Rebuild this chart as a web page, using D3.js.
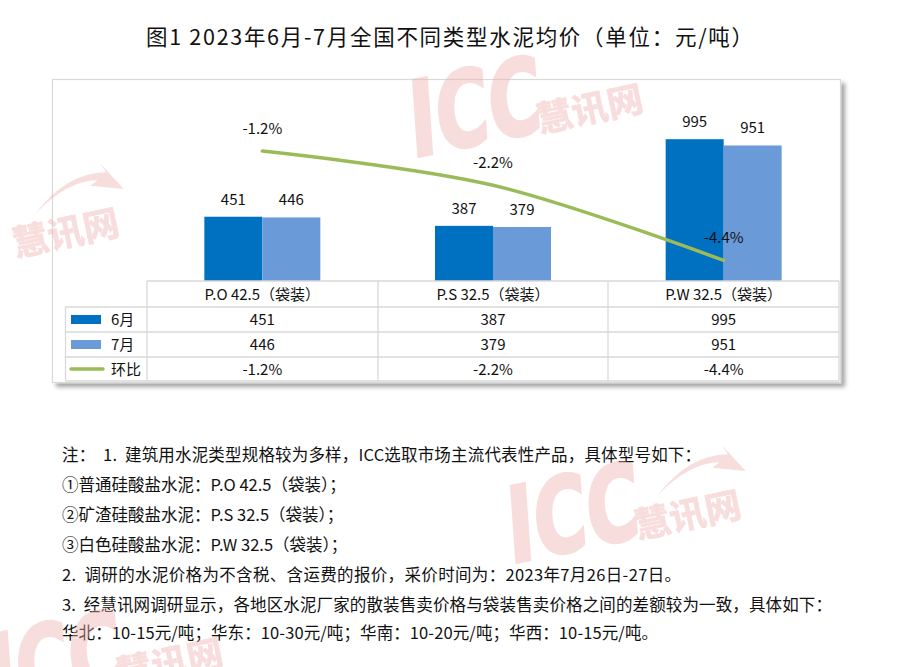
<!DOCTYPE html>
<html><head><meta charset="utf-8">
<script src="https://cdn.jsdelivr.net/npm/d3@7"></script>
<style>
html,body{margin:0;padding:0;background:#fff;}
svg{display:block;font-family:"Noto Sans CJK SC","Noto Sans",sans-serif;}
</style></head>
<body>
<svg id="c" width="900" height="667"></svg>
<script>
const title = "图1 2023年6月-7月全国不同类型水泥均价（单位：元/吨）";
const categories = ["P.O 42.5（袋装）", "P.S 32.5（袋装）", "P.W 32.5（袋装）"];
const seriesNames = ["6月", "7月", "环比"];
const june = [451, 387, 995];
const july = [446, 379, 951];
const momPct = [-1.2, -2.2, -4.4];
const momLabels = ["-1.2%", "-2.2%", "-4.4%"];
const notes = [
  "注：  1.  建筑用水泥类型规格较为多样，ICC选取市场主流代表性产品，具体型号如下：",
  "①普通硅酸盐水泥：P.O 42.5（袋装）；",
  "②矿渣硅酸盐水泥：P.S 32.5（袋装）；",
  "③白色硅酸盐水泥：P.W 32.5（袋装）；",
  "2.  调研的水泥价格为不含税、含运费的报价，采价时间为：2023年7月26日-27日。",
  "3.  经慧讯网调研显示，各地区水泥厂家的散装售卖价格与袋装售卖价格之间的差额较为一致，具体如下：",
  "华北：10-15元/吨；华东：10-30元/吨；华南：10-20元/吨；华西：10-15元/吨。"
];

const colors = {jun:"#0070C0", jul:"#6A9BD8", line:"#9BBB59", grid:"#D9D9D9"};
const svg = d3.select("#c");

const defs = svg.append("defs");
const f = defs.append("filter").attr("id","sh").attr("x","-5%").attr("y","-5%").attr("width","115%").attr("height","115%");
f.append("feDropShadow").attr("dx",4).attr("dy",4).attr("stdDeviation",2.2).attr("flood-color","#000").attr("flood-opacity",0.35);

// title
svg.append("text").attr("x",146).attr("y",45)
  .attr("font-size",21.5).attr("fill","#111")
  .attr("textLength",607).attr("lengthAdjust","spacing").text(title);

// chart box
svg.append("rect").attr("x",52.5).attr("y",79.5).attr("width",788).attr("height",303)
  .attr("fill","#fff").attr("stroke",colors.grid).attr("stroke-width",1.2).attr("filter","url(#sh)");

const x = d3.scaleBand().domain(categories).range([147,839]).paddingInner(0).paddingOuter(0);
const y = d3.scaleLinear().domain([0,1200]).range([281,110]);
const y2 = d3.scaleLinear().domain([-5,0]).range([281,110]);
const barW = 58;
const cx = c => x(c) + x.bandwidth()/2;

const g = svg.append("g");
const barData = [];
categories.forEach((c,i)=>{
  barData.push({c, v:june[i], s:0});
  barData.push({c, v:july[i], s:1});
});
g.selectAll("rect.bar").data(barData).join("rect")
  .attr("x", d => cx(d.c) - barW + d.s*barW)
  .attr("y", d => y(d.v))
  .attr("width", barW)
  .attr("height", d => y(0) - y(d.v))
  .attr("fill", d => d.s===0 ? colors.jun : colors.jul);
g.selectAll("text.bl").data(barData).join("text")
  .attr("x", d => cx(d.c) - barW/2 + d.s*barW)
  .attr("y", d => y(d.v) - 12)
  .attr("text-anchor","middle").attr("font-size",15).attr("fill","#111")
  .text(d => d.v);

const pts = categories.map((c,i)=>[cx(c), y2(momPct[i])]);
g.append("path").attr("d", d3.line().curve(d3.curveCatmullRom.alpha(0.5))(pts))
  .attr("fill","none").attr("stroke",colors.line).attr("stroke-width",3.5).attr("stroke-linecap","round");
g.selectAll("text.ll").data(categories).join("text")
  .attr("x", c => cx(c)).attr("y",(c,i)=> y2(momPct[i]) - 17)
  .attr("text-anchor","middle").attr("font-size",15).attr("fill","#111")
  .text((c,i)=>momLabels[i]);

// table
const rowsY = [281, 307, 332, 357, 381];
const colX = [65.5, 147, 378, 608, 839];
const t = svg.append("g").attr("stroke",colors.grid).attr("stroke-width",1.3).attr("fill","none");
t.append("line").attr("x1",147).attr("x2",839).attr("y1",rowsY[0]).attr("y2",rowsY[0]);
rowsY.slice(1).forEach(yy => t.append("line").attr("x1",65.5).attr("x2",839).attr("y1",yy).attr("y2",yy));
t.append("line").attr("x1",65.5).attr("x2",65.5).attr("y1",rowsY[1]).attr("y2",rowsY[4]);
colX.slice(1).forEach(xx => t.append("line").attr("x1",xx).attr("x2",xx).attr("y1",rowsY[0]).attr("y2",rowsY[4]));

const tt = svg.append("g").attr("font-size",15).attr("fill","#111").attr("text-anchor","middle");
categories.forEach(c => tt.append("text").attr("x",cx(c)).attr("y",(rowsY[0]+rowsY[1])/2+5.5).text(c));
const rowVals = [june.map(String), july.map(String), momLabels];
rowVals.forEach((vals,r)=>{
  vals.forEach((v,i)=> tt.append("text").attr("x",cx(categories[i])).attr("y",(rowsY[r+1]+rowsY[r+2])/2+5.5).text(v));
});
const lk = svg.append("g");
[0,1].forEach(r=>{
  const yc = (rowsY[r+1]+rowsY[r+2])/2;
  lk.append("rect").attr("x",71).attr("y",yc-4.5).attr("width",30).attr("height",9)
    .attr("fill", r===0?colors.jun:colors.jul);
});
{
  const yc = (rowsY[3]+rowsY[4])/2;
  lk.append("line").attr("x1",71).attr("x2",103).attr("y1",yc).attr("y2",yc)
    .attr("stroke",colors.line).attr("stroke-width",3.5).attr("stroke-linecap","round");
}
seriesNames.forEach((s,r)=>{
  const yc = (rowsY[r+1]+rowsY[r+2])/2;
  lk.append("text").attr("x",111).attr("y",yc+5.5).attr("font-size",15).attr("fill","#111").text(s);
});

// notes
const ny = [461, 491, 521, 551, 581, 611, 639];
const noteLen = [639, null, null, null, 619, 770, 596];
svg.append("g").attr("font-size",16.5).attr("fill","#111")
  .selectAll("text").data(notes).join("text")
  .attr("x",62).attr("y",(d,i)=>ny[i]).style("white-space","pre")
  .each(function(d,i){ if(noteLen[i]) d3.select(this).attr("textLength",noteLen[i]).attr("lengthAdjust","spacing"); })
  .text(d=>d);

// watermarks
function watermark(ox, oy, showICC, showSwoosh){
  const w = svg.append("g").attr("transform",`translate(${ox},${oy}) rotate(-12)`)
    .attr("fill","#F0AFAF").attr("stroke","#F0AFAF").attr("opacity",0.42).style("pointer-events","none");
  if(showICC){
    w.append("text").attr("x",0).attr("y",0)
      .attr("font-family","'DejaVu Sans Condensed','DejaVu Sans',sans-serif")
      .attr("font-weight","bold").attr("font-size",104).attr("stroke-width",3)
      .attr("transform","skewX(-8) scale(0.78,1)").text("ICC");
  }
  w.append("text").attr("x",130).attr("y",2).attr("font-weight","bold").attr("font-size",36)
    .attr("stroke-width",0.8).text("慧讯网");
  if(showSwoosh){
    w.append("path").attr("stroke","none")
      .attr("d","M 158 -36 Q 198 -70 236 -62 L 232 -72 L 250 -42 L 218 -52 L 226 -56 Q 196 -62 158 -36 Z");
  }
}
watermark(412, 158, true, false);
watermark(510, 564, true, true);
watermark(-112, 282, false, true);
watermark(-8, 712, true, false);
</script>
</body></html>
